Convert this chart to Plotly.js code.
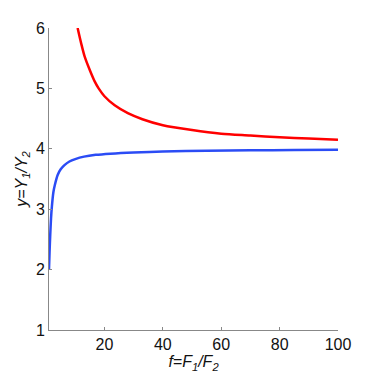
<!DOCTYPE html>
<html>
<head>
<meta charset="utf-8">
<script src="https://cdn.plot.ly/plotly-3.0.1.min.js"></script>
<style>
  html, body { margin: 0; padding: 0; background: #fff; }
  #chart { width: 374px; height: 374px; }
</style>
</head>
<body>
<div id="chart"></div>
<script>
// curva azul (crece hacia 4)
const f_blue = [1, 1.2, 1.4, 1.7, 2, 2.5, 3, 4, 5, 6.3, 8, 10, 13, 17, 22, 30, 40, 55, 70, 85, 100];
const y_blue = [2.0, 2.3, 2.55, 2.85, 3.05, 3.28, 3.4, 3.57, 3.66, 3.73, 3.79, 3.83, 3.87, 3.9, 3.92, 3.94, 3.955, 3.967, 3.975, 3.98, 3.985];

// curva roja (baja hacia 4)
const f_red = [10.8, 12, 13.2, 15, 16.6, 18, 20, 23.5, 28, 33, 40, 50, 60, 70, 80, 90, 100];
const y_red = [6.0, 5.75, 5.53, 5.3, 5.12, 5.0, 4.87, 4.72, 4.59, 4.49, 4.39, 4.31, 4.25, 4.22, 4.19, 4.17, 4.15];

const xTicks = [20, 40, 60, 80, 100];
const yTicks = [1, 2, 3, 4, 5, 6];

const font = '"Liberation Sans", Arial, sans-serif';

var data = [
  {
    x: f_red, y: y_red,
    type: 'scatter', mode: 'lines',
    line: { color: '#ff0000', width: 2.5, shape: 'spline', smoothing: 0.8 },
    hoverinfo: 'skip'
  },
  {
    x: f_blue, y: y_blue,
    type: 'scatter', mode: 'lines',
    line: { color: '#2b4cf5', width: 2.5, shape: 'spline', smoothing: 0.8 },
    hoverinfo: 'skip'
  }
];

var axisCommon = {
  showgrid: false,
  zeroline: false,
  showline: true,
  linecolor: '#888',
  linewidth: 1,
  ticks: 'inside',
  ticklen: 3,
  tickcolor: '#888',
  tickfont: { family: font, size: 16, color: '#111' },
  fixedrange: true
};

var layout = {
  width: 374, height: 374,
  margin: { l: 49, r: 36, t: 28, b: 44 },
  paper_bgcolor: '#fff',
  plot_bgcolor: '#fff',
  showlegend: false,
  xaxis: Object.assign({}, axisCommon, {
    range: [1, 100],
    tickvals: xTicks,
    ticktext: xTicks.map(String),
    title: { text: '<i>f=F<sub>1</sub>/F<sub>2</sub></i>', font: { family: font, size: 16, color: '#111' }, standoff: 0 }
  }),
  yaxis: Object.assign({}, axisCommon, {
    range: [1, 6],
    tickvals: yTicks,
    ticktext: yTicks.map(String),
    title: { text: '<i>y=Y<sub>1</sub>/Y<sub>2</sub></i>', font: { family: font, size: 16, color: '#111' }, standoff: 4 }
  })
};

Plotly.newPlot('chart', data, layout, { staticPlot: true, displayModeBar: false });
</script>
</body>
</html>
